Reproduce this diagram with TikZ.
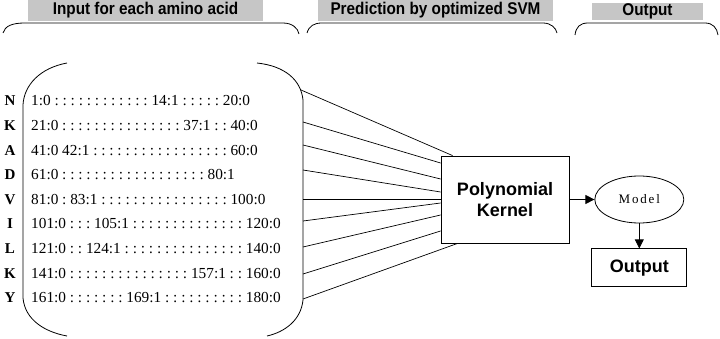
\documentclass[tikz,border=0pt]{standalone}
\usepackage{fontspec}
\setmainfont{Liberation Serif}
\newfontfamily\hdrfont{Liberation Sans}
\newfontfamily\barfont[FakeStretch=0.9]{Liberation Sans}
\newfontfamily\modelfont[LetterSpace=14]{Liberation Serif}
\usetikzlibrary{
    shapes.geometric,
    arrows.meta, positioning, calc
}
\tikzset{
  hdr/.style={rectangle, fill=gray!45, minimum width=235pt, minimum height=21pt,
              inner sep=0pt, font=\barfont\bfseries\fontsize{17}{18}\selectfont},
  brace/.style={line width=0.8pt},
  res/.style={inner sep=0pt, font=\bfseries\fontsize{15}{16}\selectfont},
  seq/.style={anchor=west, inner sep=0pt, font=\frenchspacing\fontsize{15.3}{18}\selectfont},
  feed/.style={line width=0.7pt},
  kern/.style={rectangle, draw, line width=0.8pt, minimum width=128pt, minimum height=87pt,
               align=center, font=\hdrfont\bfseries\fontsize{18}{21}\selectfont},
  arr/.style={-{Triangle[length=9pt,width=9pt]}, line width=0.8pt},
}

\begin{document}
\begin{tikzpicture}[x=1pt, y=-1pt,
  modl/.style={ellipse, draw, line width=0.8pt, minimum width=89pt, minimum height=47pt,
               inner sep=0pt, font=\modelfont\fontsize{13}{15}\selectfont},
  outbox/.style={rectangle, draw, line width=0.8pt, minimum width=95pt, minimum height=38pt,
                 font=\hdrfont\bfseries\fontsize{18}{21}\selectfont},
]
  \useasboundingbox (0,0) rectangle (720,339);

  % column headings
  \node[hdr] (hin) at (145.5,10.5) {Input for each amino acid};
  \node[hdr] (hsvm) at (435.5,10.5) {Prediction by optimized SVM};
  \node[hdr, minimum width=111pt, minimum height=17pt] (hout) at (647.5,11.5) {Output};

  % braces under the headings
  \draw[brace] (3,33) .. controls (5,26) and (12,23) .. (25,23) -- (283,23)
    .. controls (292,23) and (298,28) .. (299,34);
  \draw[brace] (307,33) .. controls (309,26) and (314,23) .. (322,23) -- (543,23)
    .. controls (551,23) and (556,28) .. (557,33);
  \draw[brace] (575,35) .. controls (576,27) and (580,23) .. (588,23) -- (705,23)
    .. controls (713,23) and (717,28) .. (718,35);

  % bracket round the inputs
  \draw[brace] (67,63) .. controls (40,68) and (24,85) .. (23,105) -- (23,298)
    .. controls (25,320) and (45,332) .. (67,336);
  \draw[brace] (257,63) .. controls (285,66) and (301,80) .. (303,100) -- (303,300)
    .. controls (301,320) and (285,332) .. (267,336);

  % residues and their sparse codes
  \foreach \res/\code [count=\i] in {
    N/{1:0 : : : : :  : : : : :  : : 14:1 : : : : : 20:0},
    K/{21:0 : : : : :  : : : : :  : : : : : 37:1 : : 40:0},
    A/{41:0 42:1 : : : : :  : : : : :  : : : : :  : : 60:0},
    D/{61:0 : : : : :  : : : : :  : : : : :  : : : 80:1},
    V/{81:0 : 83:1 : : : : :  : : : : :  : : : : :  : 100:0},
    I/{101:0 : : : 105:1 : : : : :  : : : : :  : : : : 120:0},
    L/{121:0 : : 124:1 : : : : :  : : : : :  : : : : : 140:0},
    K/{141:0 : : : : :  : : : : :  : : : : : 157:1 : : 160:0},
    Y/{161:0 : : : : : : : 169:1 : : : : :  : : : : : 180:0}}{
    \node[res] (r\i) at (10,{101+24.6*(\i-1)}) {\res};
    \node[seq] (c\i) at (31,{101+24.6*(\i-1)}) {\code};
  }

  % kernel, model and output
  \node[kern] (kernel) at (505,199.5) {Polynomial\\Kernel};
  \node[modl, right=25pt of kernel] (model) {Model};
  \node[outbox, below=25pt of model] (out) {Output};

  \draw[arr] (kernel.east) -- (model.west);
  \draw[arr] (model.south) -- (out.north);

  % links from the input rows to the kernel
  \coordinate (s1) at (301,90);
  \foreach \i/\sy in {2/122, 3/145, 4/170, 5/199, 6/221, 7/247, 8/274, 9/299}
    \coordinate (s\i) at (303,\sy);
  \coordinate (k1) at ($(kernel.north west)+(12,0)$);
  \foreach \i/\d in {2/-36.5, 3/-20.5, 4/-7.5, 5/-0.5, 6/3.5, 7/15.5, 8/31.5}
    \coordinate (k\i) at ($(kernel.west)+(0,\d)$);
  \coordinate (k9) at ($(kernel.south west)+(17,0)$);
  \foreach \i in {1,...,9}
    \draw[feed] (s\i) -- (k\i);

\end{tikzpicture}
\end{document}
